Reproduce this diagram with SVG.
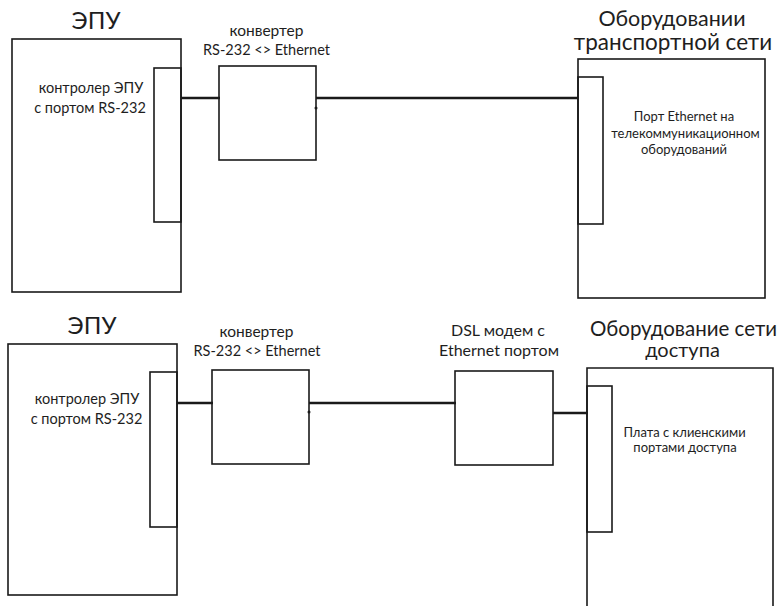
<svg xmlns="http://www.w3.org/2000/svg" width="782" height="606" viewBox="0 0 782 606">
<style>
.box{fill:none;stroke:#1a1a1a;stroke-width:1.6}
.wire{fill:none;stroke:#1a1a1a;stroke-width:2.6}
text{font-family:Lato,"Open Sans","Noto Sans",sans-serif;fill:#1e1e1e;text-anchor:middle}
.t{font-size:22px}
.e{font-size:24px}
.m{font-size:14.5px}
.d{font-size:16px}
.s{font-size:13px}
</style>
<rect width="782" height="606" fill="#fff"/>
<g id="epu1">
<rect class="box" x="12" y="39" width="169" height="253"/>
<text class="e" x="96" y="29">ЭПУ</text>
</g>
<g id="ctrl1">
<rect class="box" x="154" y="68" width="27" height="154"/>
<text class="m" x="91" y="93">контролер ЭПУ</text>
<text class="m" x="90" y="113">с портом RS-232</text>
</g>
<g id="conv1">
<rect class="box" x="219" y="66" width="97" height="94"/>
<text class="m" x="266.5" y="36" style="font-size:15.5px">конвертер</text>
<text class="m" x="266.5" y="55">RS-232 &lt;&gt; Ethernet</text>
</g>
<g id="transport">
<rect class="box" x="578" y="59" width="187" height="239"/>
<text class="t" x="672" y="26" style="font-size:21.5px">Оборудовании</text>
<text class="t" x="673" y="50" style="font-size:22.5px">транспортной сети</text>
</g>
<g id="ethport">
<rect class="box" x="578" y="77" width="25" height="147"/>
<text class="s" x="684" y="121">Порт Ethernet на</text>
<text class="s" x="685.5" y="138">телекоммуникационном</text>
<text class="s" x="684" y="154">оборудований</text>
</g>
<g id="epu2">
<rect class="box" x="8" y="344" width="169" height="251"/>
<text class="e" x="92" y="334">ЭПУ</text>
</g>
<g id="ctrl2">
<rect class="box" x="150" y="372" width="27" height="155"/>
<text class="m" x="87" y="404">контролер ЭПУ</text>
<text class="m" x="86.5" y="424">с портом RS-232</text>
</g>
<g id="conv2">
<rect class="box" x="212" y="370" width="97" height="94"/>
<text class="m" x="256.5" y="337" style="font-size:15.5px">конвертер</text>
<text class="m" x="257" y="356">RS-232 &lt;&gt; Ethernet</text>
</g>
<g id="dsl">
<rect class="box" x="455" y="371" width="98" height="94"/>
<text class="d" x="498" y="335.5">DSL модем с</text>
<text class="d" x="499" y="356">Ethernet портом</text>
</g>
<g id="access">
<path class="box" d="M587 607V368H773V607"/>
<text class="t" x="683.5" y="336" style="font-size:20.5px">Оборудование сети</text>
<text class="t" x="682.5" y="357" style="font-size:20px">доступа</text>
</g>
<g id="board">
<rect class="box" x="587" y="386" width="25" height="146"/>
<text class="s" x="684.5" y="437">Плата с клиенскими</text>
<text class="s" x="685" y="452">портами доступа</text>
</g>
<g id="connectors">
<line class="wire" x1="181" y1="98" x2="220" y2="98"/>
<line class="wire" x1="316" y1="98" x2="578" y2="98"/>
<line class="wire" x1="177" y1="403" x2="213" y2="403"/>
<line class="wire" x1="309" y1="403" x2="456" y2="403"/>
<line class="wire" x1="553" y1="413" x2="588" y2="413"/>
<circle cx="316" cy="108" r="1.5" fill="#1a1a1a"/>
<circle cx="309" cy="412" r="1.5" fill="#1a1a1a"/>
</g>
</svg>
